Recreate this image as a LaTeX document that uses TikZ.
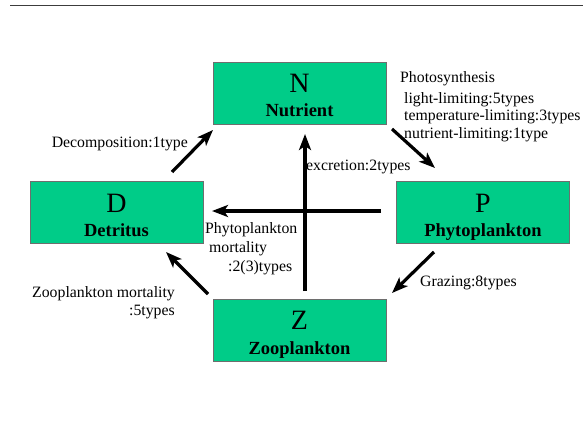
\documentclass[tikz,border=0pt]{standalone}
\usepackage{fontspec}
\setmainfont{Liberation Serif}
\usetikzlibrary{arrows.meta}
\definecolor{boxgreen}{RGB}{0,204,136}
\definecolor{boxedge}{RGB}{110,110,110}
\definecolor{rulegray}{RGB}{60,60,60}
\tikzset{
  box/.style={draw=boxedge, line width=0.8pt, fill=boxgreen, minimum width=173pt, minimum height=62pt, inner sep=0pt},
  bigletter/.style={anchor=base, inner sep=0pt, font=\fontsize{28}{30}\selectfont},
  boxlabel/.style={anchor=base, inner sep=0pt, font=\fontsize{18.5}{20}\selectfont\bfseries},
  lbl/.style={inner sep=0pt, font=\fontsize{15.8}{18}\selectfont},
  flow/.style={line width=3.2pt, -{Stealth[length=16pt,width=12pt,inset=4pt]}}
}
\begin{document}
\begin{tikzpicture}[x=1pt,y=-1pt]
\useasboundingbox (0,0) rectangle (583,433);
\draw[rulegray, line width=1.6pt] (10,5.5) -- (583,5.5);

% boxes
\node[box] (N) at (299.5,93) {};
\node[box] (D) at (116.5,212) {};
\node[box] (P) at (483,212) {};
\node[box] (Z) at (299.5,330) {};

\node[bigletter] (Nl) at (299.5,93) {N};
\node[boxlabel] (Nt) at (299.5,117) {Nutrient};
\node[bigletter] (Dl) at (116.5,212) {D};
\node[boxlabel] (Dt) at (116.5,236) {Detritus};
\node[bigletter] (Pl) at (483,212) {P};
\node[boxlabel] (Pt) at (483,236) {Phytoplankton};
\node[bigletter] (Zl) at (299.5,329) {Z};
\node[boxlabel] (Zt) at (299.5,354) {Zooplankton};

% arrow end points
\coordinate (decA) at (172,172);
\coordinate (decB) at (213,130);
\coordinate (phoA) at (392,129);
\coordinate (phoB) at (435,168);
\coordinate (excA) at (305,291);
\coordinate (excB) at (305,134);
\coordinate (morA) at (381,211);
\coordinate (morB) at (212,211);
\coordinate (graA) at (434,252);
\coordinate (graB) at (392,293);
\coordinate (zmA) at (208,294);
\coordinate (zmB) at (166,252);

\draw[flow] (decA) -- (decB);
\draw[flow] (phoA) -- (phoB);
\draw[flow] (excA) -- (excB);
\draw[flow] (morA) -- (morB);
\draw[flow] (graA) -- (graB);
\draw[flow] (zmA) -- (zmB);

% labels
\node[lbl, anchor=base east] (tdec) at (188,147) {Decomposition:1type};
\node[lbl, anchor=base west] (tph1) at (400,83) {Photosynthesis};
\node[lbl, anchor=base west] (tph2) at (404,103) {light-limiting:5types};
\node[lbl, anchor=base west] (tph3) at (404,121) {temperature-limiting:3types};
\node[lbl, anchor=base west] (tph4) at (404,139) {nutrient-limiting:1type};
\node[lbl, anchor=base west] (texc) at (306,170) {excretion:2types};
\node[lbl, anchor=base west] (tpm1) at (205,233) {Phytoplankton};
\node[lbl, anchor=base west] (tpm2) at (209,252) {mortality};
\node[lbl, anchor=base west] (tpm3) at (228,271) {:2(3)types};
\node[lbl, anchor=base west] (tgra) at (420,286) {Grazing:8types};
\node[lbl, anchor=base east] (tzm1) at (175,297) {Zooplankton mortality};
\node[lbl, anchor=base east] (tzm2) at (175,315) {:5types};
\end{tikzpicture}
\end{document}
